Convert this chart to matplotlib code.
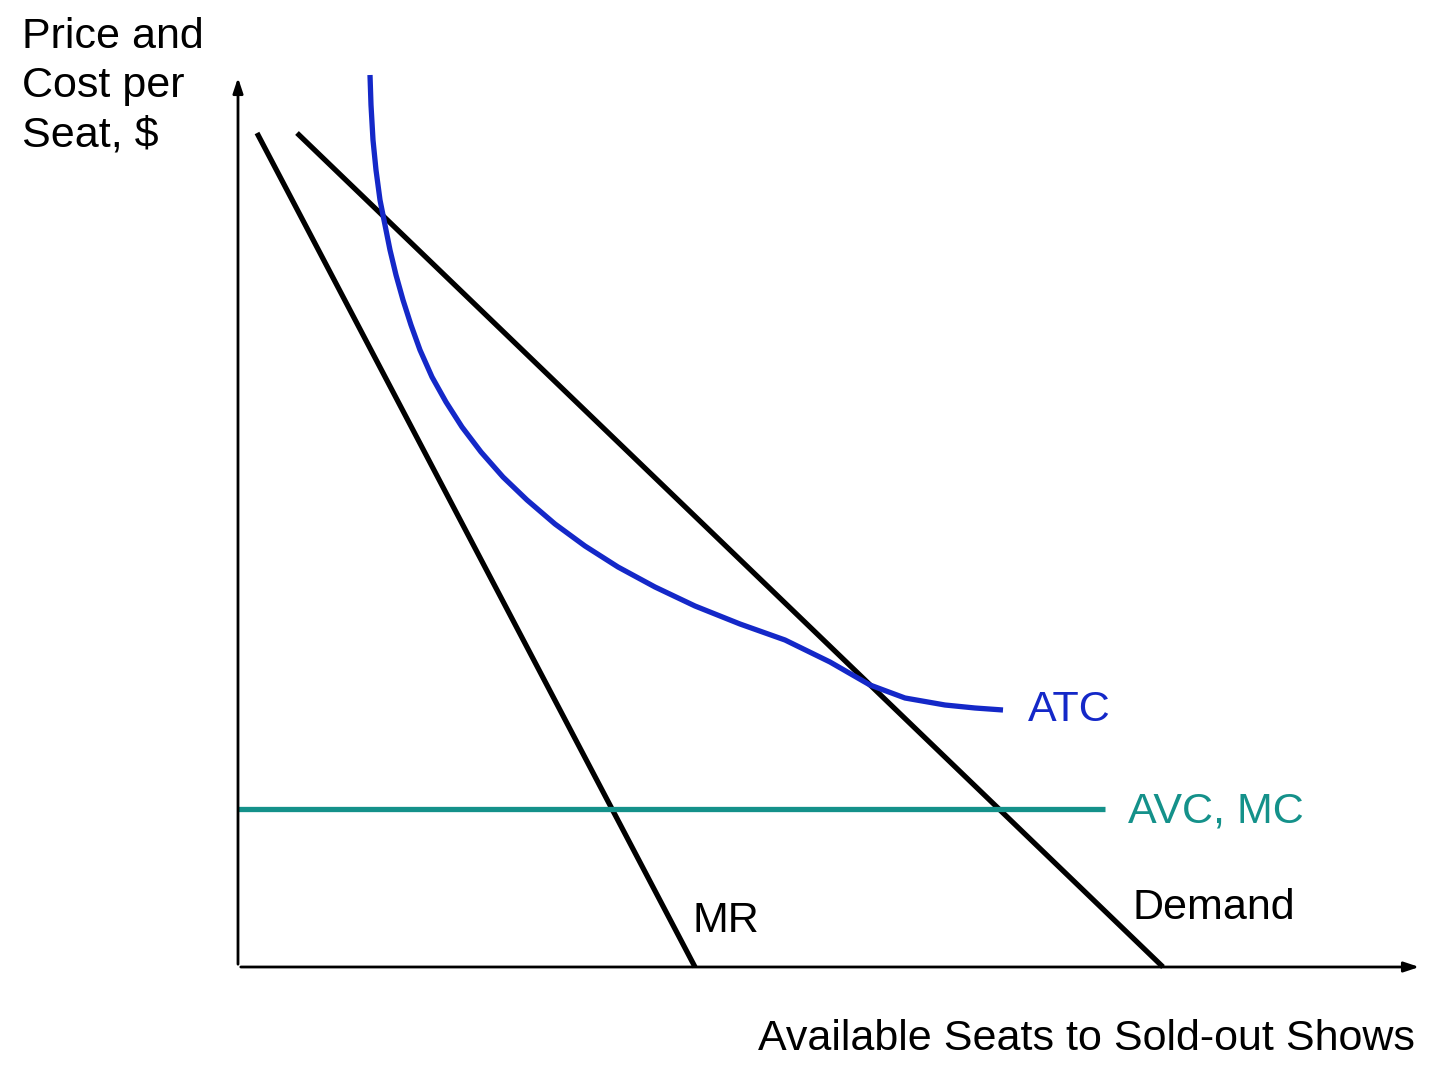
import matplotlib
matplotlib.use("Agg")
import matplotlib.pyplot as plt

# economic units (origin at axes corner)
demand_x = [59, 925]; demand_y = [834, 0]
mr_x = [19, 457]; mr_y = [834, 0]
avc_x = [0, 867]; avc_y = [158, 158]
atc_px = [(370,75),(371,105),(373,140),(376,170),(380,200),(385,225),(390,250),(396,275),
          (403,300),(411,325),(420,350),(432,377),(446,402),(462,427),(481,452),(503,477),
          (527,500),(555,524),(585,546),(618,567),(655,587),(695,606),(740,624),(785,640),
          (830,662),(870,685),(905,698),(945,705),(975,708),(1003,710)]
atc_x = [p[0]-238 for p in atc_px]
atc_y = [967-p[1] for p in atc_px]

plt.rcParams['font.family'] = ['Liberation Sans', 'DejaVu Sans']
fig = plt.figure(figsize=(14.4, 10.82), dpi=100)
ax = fig.add_axes([0, 0, 1, 1])
ax.set_xlim(-238, 1202)
ax.set_ylim(-115, 967)
ax.axis('off')

fs = 31
ax.annotate('', xy=(0, 892), xytext=(0, 0), arrowprops=dict(arrowstyle='-|>,head_length=0.9,head_width=0.3', color='black', lw=2))
ax.annotate('', xy=(1184, 0), xytext=(0, 0), arrowprops=dict(arrowstyle='-|>,head_length=0.9,head_width=0.3', color='black', lw=2))

ax.plot(demand_x, demand_y, color='black', lw=3.8, solid_capstyle='butt')
ax.plot(mr_x, mr_y, color='black', lw=3.8, solid_capstyle='butt')
ax.plot(avc_x, avc_y, color='#14918a', lw=3.8, solid_capstyle='butt')
ax.plot(atc_x, atc_y, color='#1428c8', lw=3.8, solid_capstyle='butt', solid_joinstyle='round')

ax.text(-216, 950, 'Price and\nCost per\nSeat, $', fontsize=fs, va='top', ha='left', linespacing=1.3)
ax.text(790, 257, 'ATC', fontsize=fs, color='#1428c8', va='center')
ax.text(890, 155, 'AVC, MC', fontsize=fs, color='#14918a', va='center')
ax.text(455, 46, 'MR', fontsize=fs, va='center')
ax.text(895, 59, 'Demand', fontsize=fs, va='center')
ax.text(1177, -72, 'Available Seats to Sold-out Shows', fontsize=fs, va='center', ha='right')

fig.savefig('out.png', dpi=100)
